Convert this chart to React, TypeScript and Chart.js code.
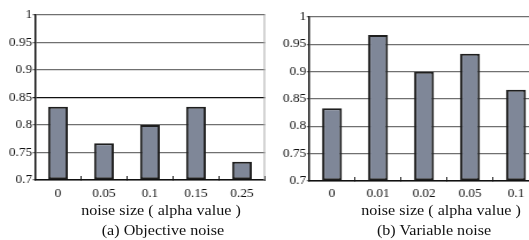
import React, { useEffect, useRef } from "react";
import { Chart, registerables } from "chart.js";

Chart.register(...registerables);

const leftCategories = ["0", "0.05", "0.1", "0.15", "0.25"];
const leftValues = [0.833, 0.767, 0.8, 0.833, 0.733];
const rightCategories = ["0", "0.01", "0.02", "0.05", "0.1"];
const rightValues = [0.833, 0.967, 0.9, 0.933, 0.867];
const yMin = 0.7;
const yMax = 1;
const yStep = 0.05;
const axisTitle = "noise size ( alpha value )";
const leftCaption = "(a) Objective noise";
const rightCaption = "(b) Variable noise";

const S = 1.15; // horizontal stretch of the reference
const FONT = "'Liberation Serif', 'Times New Roman', serif";

const rightBorder = {
  id: "rightBorder",
  afterDraw(chart: any) {
    const a = chart.chartArea;
    const ctx = chart.ctx;
    ctx.save();
    ctx.strokeStyle = "#a8a8a8";
    ctx.lineWidth = 1;
    ctx.beginPath();
    ctx.moveTo(a.right - 0.5, a.top);
    ctx.lineTo(a.right - 0.5, a.bottom);
    ctx.stroke();
    ctx.restore();
  },
};

function makeConfig(
  labels: string[],
  values: number[],
  opts: { yWidth: number; padTop: number; padRight: number; xHeight: number; tickPad: number; darkGrid: number | null; border: boolean }
): any {
  return {
    type: "bar",
    data: {
      labels,
      datasets: [
        {
          data: values,
          base: yMin,
          backgroundColor: "#7f8798",
          borderColor: "#1e1e1e",
          borderWidth: 2,
          borderSkipped: false,
          barPercentage: 0.43,
          categoryPercentage: 1,
        },
      ],
    },
    options: {
      responsive: false,
      animation: false,
      devicePixelRatio: 1,
      layout: { padding: { top: opts.padTop, right: opts.padRight, left: 0, bottom: 0 } },
      plugins: { legend: { display: false }, tooltip: { enabled: false }, title: { display: false } },
      scales: {
        x: {
          offset: true,
          grid: {
            offset: true,
            drawOnChartArea: false,
            drawTicks: true,
            tickLength: -4,
            color: "#222",
            lineWidth: 1,
          },
          border: { display: true, color: "#111", width: 1.5 },
          ticks: {
            color: "#111",
            font: { family: FONT, size: 11.5 },
            padding: opts.tickPad,
            maxRotation: 0,
            autoSkip: false,
          },
          afterFit: (axis: any) => {
            axis.height = opts.xHeight;
          },
        },
        y: {
          min: yMin,
          max: yMax,
          grid: {
            drawTicks: true,
            tickLength: 2,
            color: (c: any) =>
              opts.darkGrid !== null && c.tick && Math.abs(c.tick.value - opts.darkGrid) < 1e-6 ? "#111" : "#707070",
            lineWidth: 1.3,
          },
          border: { display: true, color: "#111", width: 1.5 },
          ticks: {
            stepSize: yStep,
            color: "#111",
            font: { family: FONT, size: 11.5 },
            padding: 0.5,
            callback: (v: any) => String(Number(Number(v).toFixed(2))),
          },
          afterFit: (axis: any) => {
            axis.width = opts.yWidth;
          },
        },
      },
    },
    plugins: opts.border ? [rightBorder] : [],
  };
}

function BarCanvas(props: { config: any; left: number; width: number }) {
  const ref = useRef<HTMLCanvasElement | null>(null);
  useEffect(() => {
    if (!ref.current) return;
    const chart = new Chart(ref.current, props.config);
    return () => chart.destroy();
  }, []);
  return (
    <canvas
      ref={ref}
      width={props.width}
      height={240}
      style={{ position: "absolute", left: props.left, top: 0, width: props.width, height: 240 }}
    />
  );
}

function Caption(props: { text: string; cx: number; top: number }) {
  return (
    <div
      style={{
        position: "absolute",
        left: props.cx - 150,
        width: 300,
        top: props.top,
        textAlign: "center",
        fontFamily: FONT,
        fontSize: 14,
        lineHeight: "16px",
        color: "#111",
        whiteSpace: "nowrap",
      }}
    >
      {props.text}
    </div>
  );
}

export default function App() {
  const leftConfig = makeConfig(leftCategories, leftValues, {
    yWidth: 35 / S,
    padTop: 15,
    padRight: 232 - 265 / S,
    xHeight: 60,
    tickPad: 11,
    darkGrid: 0.85,
    border: true,
  });
  const rightLeft = 231;
  const rightConfig = makeConfig(rightCategories, rightValues, {
    yWidth: 309 / S - rightLeft,
    padTop: 17,
    padRight: rightLeft + 240 - 539 / S,
    xHeight: 59,
    tickPad: 10.5,
    darkGrid: null,
    border: false,
  });
  return (
    <div
      style={{
        position: "fixed",
        left: 0,
        top: 0,
        width: 529,
        height: 240,
        overflow: "hidden",
        background: "#fff",
      }}
    >
      <div
        style={{
          position: "absolute",
          left: 0,
          top: 0,
          width: 529 / S,
          height: 240,
          transform: `scaleX(${S})`,
          transformOrigin: "0 0",
        }}
      >
        <BarCanvas config={leftConfig} left={0} width={232} />
        <BarCanvas config={rightConfig} left={rightLeft} width={240} />
        <Caption text={axisTitle} cx={161 / S} top={203} />
        <Caption text={leftCaption} cx={163 / S} top={223} />
        <Caption text={axisTitle} cx={441 / S} top={203} />
        <Caption text={rightCaption} cx={434 / S} top={223} />
      </div>
    </div>
  );
}
